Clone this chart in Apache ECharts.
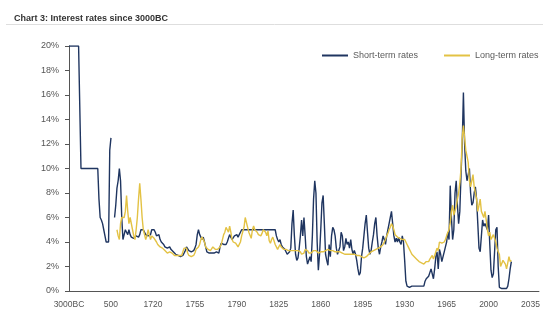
<!DOCTYPE html>
<html>
<head>
<meta charset="utf-8">
<script src="https://cdn.jsdelivr.net/npm/echarts@6/dist/echarts.min.js"></script>
<style>html,body{margin:0;padding:0;background:#fff}#c{width:543px;height:312px}</style>
</head>
<body>
<div id="c"></div>
<script>
// Category labels before the annual series (3000BC .. 1600)
const ancientLabels = [
  "3000BC","2900BC","2800BC","2700BC","2600BC","2500BC","2400BC","2300BC","2200BC","2100BC",
  "2000BC","1900BC","1800BC","1700BC","1600BC","1500BC","1400BC","1300BC","1200BC","1100BC",
  "1000BC","900BC","800BC","700BC","600BC","500BC","400BC","300BC","200BC","100BC",
  "AD1","100","200","300","400","500","1000","1200","1400","1600"
];
const firstAnnualYear = 1690;
const lastAxisYear = 2042;
const tickLabels = ["3000BC","500","1720","1755","1790","1825","1860","1895","1930","1965","2000","2035"];

// Short-term rates (%)
const shortAncient = [20,20,20,20,20,20,20,20,20,20, 10,10,10,10,10,10,10,10,10,10, 10,10,10,10,10, 7.5,6,5.8,5.5,5, 4.5,4,4,4,11.5, 12.5,null,null,6,7];
const shortAnnual = [
  8.4,9,10,9,6,4.2,4.6,5,4.8,4.6,            // 1690
  5,4.6,4.4,4.4,4.3,4.4,4.5,4.4,4.4,4.6,      // 1700
  5,5.1,5,4.8,4.6,4.6,4.5,4.6,4.6,5,          // 1710
  5,5,4.8,4.5,4.5,4.6,4.2,4,4,3.8,            // 1720
  3.6,3.6,3.5,3.5,3.6,3.4,3.4,3.2,3.2,3.0,    // 1730
  2.9,2.9,2.9,2.8,2.8,2.9,3.0,3.3,3.6,3.5,    // 1740
  3.3,3.2,3.2,3.3,3.3,3.5,3.8,4.6,5,4.6,      // 1750
  4.4,4.2,4.4,4,3.6,3.2,3.1,3.1,3.1,3.1,      // 1760
  3.1,3.1,3.1,3.2,3.1,3.1,3.6,3.9,4,3.8,      // 1770
  3.7,3.8,4,4.3,4.6,4.4,4.2,4.3,4.5,4.4,      // 1780
  4.6,4.4,4.6,4.8,5,5,5,5,5,5,                // 1790
  5,5,5,5,5,5,5,5,5,5,                        // 1800
  5,5,5,5,5,5,5,5,5,5,                        // 1810
  5,5,5,4.5,4.2,4.0,4.2,3.8,3.6,3.6,          // 1820
  3.4,3.2,3.0,2.9,3.2,3.5,5.5,6.6,4.5,3.0,    // 1830
  2.5,2.7,3.5,4.5,5.8,4.5,6.0,4.5,2.8,2.2,    // 1840
  2.3,2.8,2.4,4.5,7.5,9.0,8.0,4.0,1.7,3.0,    // 1850
  5.0,7.2,7.8,5.5,3.0,2.5,2.1,3.8,2.8,4.5,    // 1860
  5.2,5.0,4.5,3.5,3.0,3.1,3.6,4.8,4.5,3.3,    // 1870
  3.6,4.3,3.8,4.0,3.5,4.2,3.4,3.0,3.3,3.0,    // 1880
  2.5,1.8,1.3,1.5,2.8,3.5,4.5,5.5,6.2,4.8,    // 1890
  3.5,3.0,3.3,4.0,4.6,5.5,6.0,4.5,3.5,3.0,    // 1900
  3.6,4.0,4.5,4.2,3.8,4.5,5.0,5.5,6.0,6.5,    // 1910
  5.5,4.5,4.0,4.3,4.0,4.4,4.0,3.8,4.5,4.0,    // 1920
  2.5,0.8,0.4,0.3,0.3,0.3,0.4,0.4,0.4,0.4,    // 1930
  0.4,0.4,0.4,0.4,0.4,0.4,0.4,0.8,1.0,1.1,    // 1940
  1.2,1.5,1.8,1.9,1.0,1.8,2.8,3.2,1.8,3.4,    // 1950
  3.0,2.4,2.8,3.2,3.6,4.0,4.8,4.2,8.6,6.0,    // 1960
  4.2,5.0,8.0,9.0,7.0,5.5,6.5,9.5,12.0,16.2,  // 1970
  12.0,9.8,9.0,9.5,10.0,8.0,7.0,7.2,8.0,8.5,  // 1980
  7.5,5.5,3.5,3.2,4.5,5.8,5.3,5.5,5.4,5.0,    // 1990
  6.2,3.8,1.7,1.1,1.4,3.2,5.0,5.2,2.0,0.3,    // 2000
  0.2,0.2,0.2,0.2,0.2,0.2,0.4,1.0,1.8,2.4     // 2010
];

// Long-term rates (%)
const longAnnual = [
  5,4.5,4.2,5.5,6,6,6,6.5,7.8,6.5,            // 1690
  5.5,6,6,5,4.5,4.2,5,6,7.5,8.8,              // 1700
  7.5,6,5,4.6,4.2,4.5,5,4.6,4.2,4.5,          // 1710
  4.5,4.3,4.2,4.0,3.8,3.8,3.6,3.5,3.5,3.4,    // 1720
  3.3,3.2,3.1,3.2,3.2,3.3,3.1,3.0,2.9,2.9,    // 1730
  2.9,2.9,2.9,2.9,2.9,3.2,3.5,3.6,3.5,3.1,    // 1740
  2.9,2.9,2.8,2.8,2.9,3.1,3.4,3.5,3.6,3.8,    // 1750
  4.2,4.4,4.5,4.0,3.6,3.5,3.4,3.4,3.3,3.4,    // 1760
  3.6,3.5,3.4,3.4,3.4,3.4,3.6,3.8,4.2,4.6,    // 1770
  4.8,5.2,5.3,4.8,5.3,4.8,4.2,4.0,4.0,3.9,    // 1780
  3.9,3.6,3.5,4.0,4.5,4.6,5.2,6.0,5.9,5.2,    // 1790
  4.8,4.9,4.3,5.0,5.3,5.0,4.9,4.8,4.6,4.6,    // 1800
  4.5,4.7,5.0,5.0,4.8,4.5,4.9,4.1,3.9,4.2,    // 1810
  4.4,4.1,3.8,3.8,3.4,3.5,3.8,3.6,3.5,3.4,    // 1820
  3.5,3.4,3.4,3.3,3.3,3.3,3.3,3.3,3.4,3.3,    // 1830
  3.3,3.3,3.2,3.2,3.0,3.1,3.1,3.4,3.5,3.3,    // 1840
  3.1,3.1,3.1,3.1,3.3,3.3,3.3,3.3,3.1,3.2,    // 1850
  3.2,3.3,3.2,3.2,3.3,3.3,3.4,3.4,3.3,3.3,    // 1860
  3.3,3.2,3.2,3.2,3.2,3.2,3.2,3.1,3.1,3.1,    // 1870
  3.0,3.0,3.0,3.0,3.0,3.0,3.0,3.0,3.0,2.9,    // 1880
  2.9,2.9,2.9,2.8,2.8,2.7,2.7,2.7,2.8,2.9,    // 1890
  3.0,3.1,3.2,3.3,3.3,3.4,3.4,3.5,3.5,3.5,    // 1900
  3.6,3.7,3.8,4.0,4.2,4.5,4.7,5.0,5.2,5.5,    // 1910
  5.3,5.0,4.6,4.5,4.4,4.4,4.3,4.2,4.2,4.3,    // 1920
  4.2,4.0,3.8,3.6,3.4,3.2,3.0,2.9,2.8,2.7,    // 1930
  2.6,2.5,2.4,2.3,2.3,2.3,2.2,2.3,2.4,2.3,    // 1940
  2.4,2.6,2.7,2.9,2.6,2.9,3.2,3.5,3.3,4.0,    // 1950
  4.0,3.9,3.9,4.0,4.2,4.3,4.8,5.0,5.6,6.5,    // 1960
  7.0,6.2,6.3,6.9,7.5,8.0,8.8,10.0,12.5,13.5, // 1970
  12.5,11.5,11.0,10.5,9.0,8.5,9.0,9.5,8.5,8.0,// 1980
  7.5,6.5,7.0,7.5,6.5,6.5,6.0,6.5,5.8,5.0,    // 1990
  4.5,4.8,4.2,4.3,4.6,4.6,4.0,3.5,3.2,3.0,    // 2000
  2.0,2.0,2.5,2.6,2.2,1.8,2.3,2.8,2.4,2.5     // 2010
];

const categories = ancientLabels.slice();
for (let y = firstAnnualYear; y <= lastAxisYear; y++) categories.push(String(y));
function pad(arr) { const a = arr.slice(); while (a.length < categories.length) a.push(null); return a; }
const shortSeries = pad(shortAncient.concat(shortAnnual));
const longSeries = pad(new Array(ancientLabels.length).fill(null).concat(longAnnual));

const chart = echarts.init(document.getElementById('c'), null, {renderer: 'canvas'});
chart.setOption({
  animation: false,
  backgroundColor: '#ffffff',
  title: {
    text: 'Chart 3: Interest rates since 3000BC',
    left: 9, top: 9,
    textStyle: {fontFamily: 'Liberation Sans, Arial, sans-serif', fontSize: 9, fontWeight: 'bold', color: '#333333'}
  },
  graphic: [{
    type: 'line', shape: {x1: 6, y1: 24.5, x2: 543, y2: 24.5},
    style: {stroke: '#dedede', lineWidth: 1}, silent: true
  }],
  legend: {
    orient: 'horizontal',
    left: 322, top: 51, width: 221, padding: 0,
    itemWidth: 26, itemHeight: 2, itemGap: 26,
    icon: 'rect',
    textStyle: {fontFamily: 'Liberation Sans, Arial, sans-serif', fontSize: 9, color: '#5a5a5a'},
    data: ['Short-term rates', 'Long-term rates']
  },
  grid: {left: 69, right: 2.6, top: 46, bottom: 21, containLabel: false},
  xAxis: {
    type: 'category',
    data: categories,
    boundaryGap: false,
    axisLine: {show: true, lineStyle: {color: '#555555', width: 1}},
    axisTick: {show: false},
    axisLabel: {
      interval: 34, margin: 9,
      fontFamily: 'Liberation Sans, Arial, sans-serif', fontSize: 8.5, color: '#555555',
      formatter: v => tickLabels.indexOf(v) >= 0 ? v : ''
    },
    splitLine: {show: false}
  },
  yAxis: {
    type: 'value', min: 0, max: 20, interval: 2,
    axisLine: {show: true, lineStyle: {color: '#555555', width: 1}},
    axisTick: {show: true, length: 4, lineStyle: {color: '#555555'}},
    axisLabel: {
      margin: 10, formatter: '{value}%',
      fontFamily: 'Liberation Sans, Arial, sans-serif', fontSize: 9, color: '#555555'
    },
    splitLine: {show: false}
  },
  series: [
    {
      name: 'Short-term rates', type: 'line', data: shortSeries,
      symbol: 'none', connectNulls: false,
      lineStyle: {color: '#1f3560', width: 1.4},
      itemStyle: {color: '#1f3560'}
    },
    {
      name: 'Long-term rates', type: 'line', data: longSeries,
      symbol: 'none', connectNulls: false,
      lineStyle: {color: '#e3c244', width: 1.4},
      itemStyle: {color: '#e3c244'}
    }
  ]
});
</script>
</body>
</html>
